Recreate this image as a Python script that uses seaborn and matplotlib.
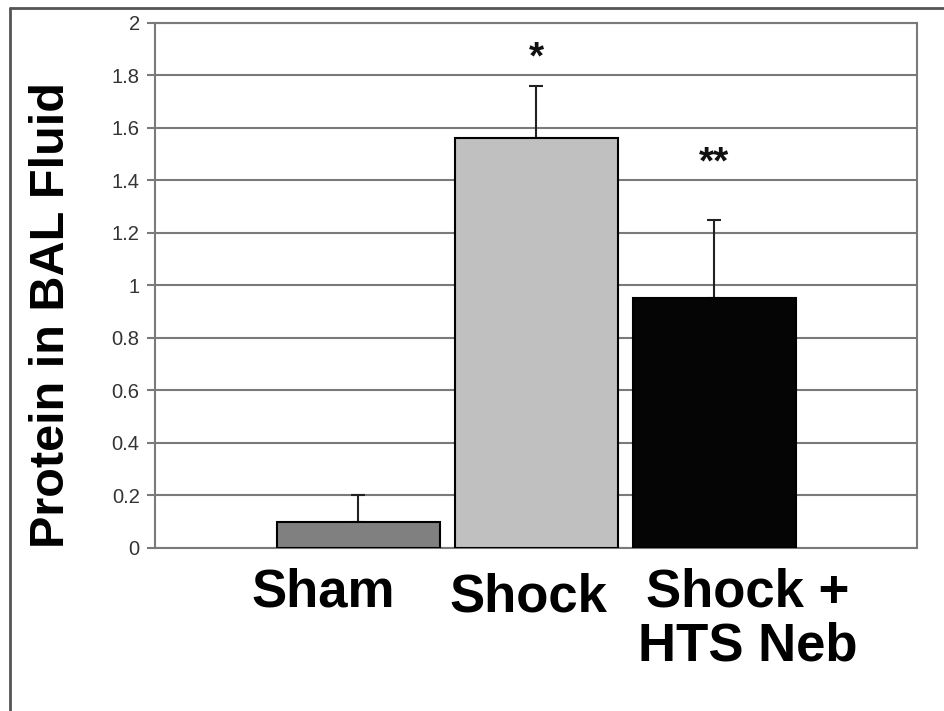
import matplotlib
matplotlib.use("Agg")
import matplotlib.pyplot as plt
import seaborn as sns
import pandas as pd
from matplotlib.transforms import ScaledTranslation
from matplotlib.lines import Line2D

categories = ["Sham", "Shock", "Shock +\nHTS Neb"]
values = [0.10, 1.56, 0.95]
errors = [0.10, 0.20, 0.30]
bar_colors = ["#808080", "#c0c0c0", "#050505"]
significance = ["", "*", "**"]
sig_y = [0.0, 1.865, 1.465]
yticks = [0, 0.2, 0.4, 0.6, 0.8, 1, 1.2, 1.4, 1.6, 1.8, 2]
ytick_labels = ["0", "0.2", "0.4", "0.6", "0.8", "1", "1.2", "1.4", "1.6", "1.8", "2"]

sns.set_theme(style="white")
plt.rcParams["font.family"] = ["Liberation Sans", "DejaVu Sans"]

df = pd.DataFrame({"group": categories, "protein": values})

fig = plt.figure(figsize=(9.44, 7.11), dpi=100)
ax = fig.add_axes([0.1642, 0.2293, 0.9714 - 0.1642, 0.968 - 0.2293])

sns.barplot(data=df, x="group", y="protein", hue="group", palette=bar_colors,
            width=0.916, edgecolor="black", linewidth=1.5, legend=False,
            errorbar=None, ax=ax, zorder=3, saturation=1)

ax.errorbar(categories, values, yerr=[[0] * len(errors), errors], fmt="none",
            ecolor="#222222", elinewidth=1.5, capsize=5, capthick=1.5, zorder=2)

for cat, s, y in zip(categories, significance, sig_y):
    if s:
        ax.text(cat, y, s, ha="center", va="center", fontsize=28,
                fontweight="bold", color="#111111")

ax.set_ylim(0, 2)
ax.set_xlim(-1.143, 3.138)
ax.set_yticks(yticks)
ax.set_yticklabels(ytick_labels)
ax.yaxis.grid(True, color="#7a7a7a", linewidth=1.5, zorder=0)
ax.set_axisbelow(True)
for sp in ax.spines.values():
    sp.set_color("#7a7a7a")
    sp.set_linewidth(1.5)
    sp.set_visible(True)

ax.tick_params(axis="y", which="major", left=True, length=6, width=1.5,
               color="#7a7a7a", pad=5, labelsize=14.5, labelcolor="#333333")
ax.tick_params(axis="x", bottom=False, pad=10, labelsize=38, labelcolor="black")
for lab, (dx, dy) in zip(ax.get_xticklabels(), [(-35, 3), (-8, -2), (33, 3)]):
    lab.set_fontweight("bold")
    lab.set_linespacing(1.12)
    lab.set_transform(lab.get_transform() +
                      ScaledTranslation(dx / 100, dy / 100, fig.dpi_scale_trans))

ax.set_xlabel("")
ax.set_ylabel("Protein in BAL Fluid", fontsize=35, fontweight="bold", color="black")
ax.yaxis.set_label_coords(-0.136, 0.444)
ax.yaxis.label.set_verticalalignment("center")

# outer frame (left and top edges)
fig.add_artist(Line2D([10 / 944, 10 / 944], [0, 1 - 8 / 711], transform=fig.transFigure,
                      color="#555555", linewidth=2))
fig.add_artist(Line2D([10 / 944, 1], [1 - 8 / 711, 1 - 8 / 711], transform=fig.transFigure,
                      color="#555555", linewidth=2))

fig.savefig("out.png", dpi=100, facecolor="white")
